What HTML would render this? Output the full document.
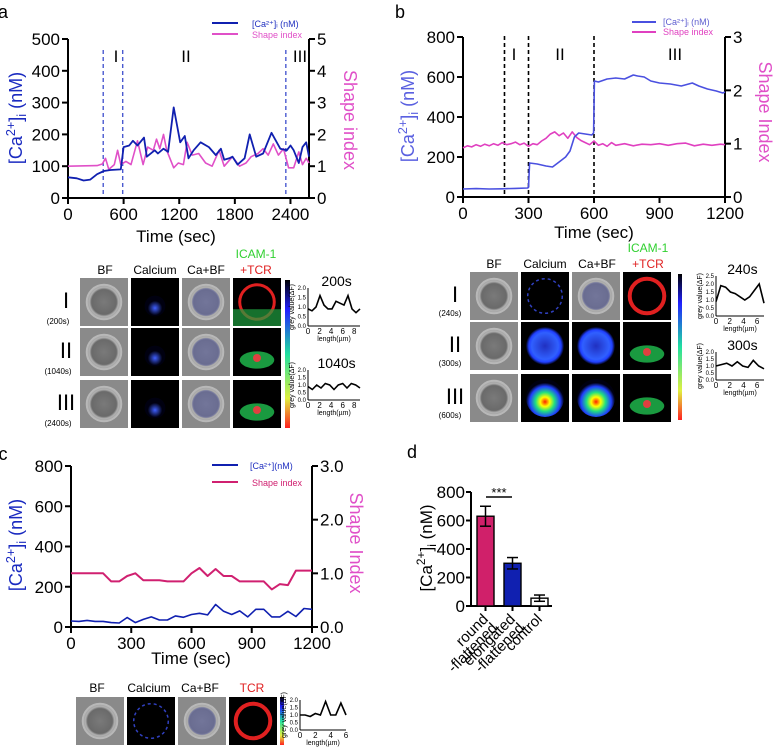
<!DOCTYPE html>
<html><head><meta charset="utf-8">
<style>
body{margin:0;background:#fff;}
svg{display:block;font-family:"Liberation Sans",Arial,sans-serif;}
</style></head>
<body>
<svg id="fig" width="778" height="755" viewBox="0 0 778 755" xmlns="http://www.w3.org/2000/svg">
<defs>
<radialGradient id="bfg" cx="0.5" cy="0.5" r="0.6"><stop offset="0" stop-color="#7a7a7a"/><stop offset="0.6" stop-color="#6a6a6a"/><stop offset="0.7" stop-color="#b0b0b0"/><stop offset="1" stop-color="#8c8c8c"/></radialGradient>
<radialGradient id="blueblob" cx="0.5" cy="0.6" r="0.35"><stop offset="0" stop-color="#4060ff"/><stop offset="1" stop-color="#000010"/></radialGradient>
<radialGradient id="heat" cx="0.5" cy="0.6" r="0.5"><stop offset="0" stop-color="#ff2000"/><stop offset="0.25" stop-color="#ffff00"/><stop offset="0.5" stop-color="#20e080"/><stop offset="0.8" stop-color="#2040ff"/><stop offset="1" stop-color="#000010"/></radialGradient>
<radialGradient id="heat2" cx="0.5" cy="0.5" r="0.5"><stop offset="0" stop-color="#2030c0"/><stop offset="0.7" stop-color="#3060ff"/><stop offset="0.85" stop-color="#2040ff"/><stop offset="1" stop-color="#000010"/></radialGradient>
<linearGradient id="cbar" x1="0" y1="0" x2="0" y2="1"><stop offset="0" stop-color="#000"/><stop offset="0.2" stop-color="#2020ff"/><stop offset="0.5" stop-color="#20e0a0"/><stop offset="0.8" stop-color="#e0f040"/><stop offset="1" stop-color="#ff2020"/></linearGradient>
</defs>
</svg>
<script>
// ---------- data ----------
const aCaT=[0,95,168,241,314,387,460,570,600,660,700,750,820,850,935,970,1030,1080,1140,1210,1260,1300,1355,1430,1520,1595,1650,1685,1740,1775,1830,1905,1960,2030,2105,2195,2290,2360,2400,2435,2490,2530,2570,2600];
const aCaV=[65,62,55,58,75,85,88,90,160,165,180,165,190,130,150,140,155,145,285,175,195,125,150,175,160,135,155,120,125,130,105,125,200,130,140,205,155,150,165,150,110,160,175,130];
const aShT=[0,314,370,405,440,500,535,570,625,680,750,810,860,920,955,990,1030,1065,1140,1190,1245,1285,1340,1410,1485,1555,1630,1685,1775,1850,1920,1975,2050,2105,2160,2215,2270,2325,2380,2435,2490,2530,2570,2600];
const aShV=[1.0,1.02,1.07,1.25,0.9,1.05,1.5,1.05,1.15,1.05,1.8,1.05,1.6,1.5,1.85,1.55,2.0,1.5,0.95,1.1,1.05,1.75,1.35,1.4,1.1,1.0,1.5,1.0,1.3,1.0,1.1,1.3,1.4,1.55,1.35,1.7,1.35,1.55,0.95,0.95,1.45,1.05,1.25,1.1];
const aXTicks=[0,600,1200,1800,2400];
const aYTicks=[0,100,200,300,400,500];
const aRTicks=[0,1,2,3,4,5];
const aMarkers=[380,590,2350];

const bCaT=[0,60,120,180,240,295,300,305,340,380,410,440,470,490,510,530,560,590,598,602,620,660,700,740,780,800,830,860,900,950,1000,1050,1080,1120,1160,1190,1200];
const bCaV=[40,42,40,41,43,45,48,170,165,155,150,175,200,230,300,320,315,310,320,580,575,590,595,590,610,605,600,580,570,565,555,570,555,540,530,520,525];
const bShT=[0,20,40,60,80,100,120,140,160,180,200,220,240,260,280,300,320,340,360,380,400,420,440,460,480,500,520,540,560,580,600,620,640,660,680,700,740,780,820,860,900,940,980,1020,1060,1100,1140,1180,1200];
const bShV=[0.92,0.96,0.94,0.98,0.95,0.99,0.96,1.0,0.97,1.02,0.98,1.0,1.03,0.98,1.01,0.95,1.0,0.98,1.05,1.1,1.18,1.22,1.15,1.2,1.1,1.22,1.12,1.06,1.02,0.98,1.05,0.97,1.0,0.95,1.02,0.97,1.0,0.96,0.99,0.98,1.0,0.97,1.0,1.01,0.96,0.99,0.97,0.99,0.98];
const bXTicks=[0,300,600,900,1200];
const bYTicks=[0,200,400,600,800];
const bRTicks=[0,1,2,3];
const bMarkers=[190,300,600];

const cCaT=[0,40,80,120,160,200,240,280,320,360,400,440,480,520,560,600,640,680,720,760,800,840,880,920,960,1000,1040,1080,1120,1160,1200];
const cCaV=[30,28,33,28,28,22,20,47,22,38,50,35,35,55,48,62,68,60,112,78,62,80,50,88,88,50,50,78,52,92,88];
const cShT=[0,160,200,240,280,320,360,440,480,560,600,640,680,720,760,800,840,920,960,1000,1040,1080,1120,1200];
const cShV=[1.0,1.0,0.85,0.85,0.95,1.0,0.87,0.87,0.85,0.85,1.0,1.1,0.95,1.08,0.95,0.95,0.85,0.85,0.85,0.7,0.8,0.78,1.05,1.05];
const cXTicks=[0,300,600,900,1200];
const cYTicks=[0,200,400,600,800];
const cRTicks=[0,1,2,3];

const dCats=["round\n-flattened","elongated\n-flattened","control"];
const dVals=[630,300,55];
const dErr=[70,40,22];
const dYTicks=[0,200,400,600,800];

// ---------- helpers ----------
const svg=document.getElementById('fig');
const NS='http://www.w3.org/2000/svg';
function mk(tag,attrs,parent){const e=document.createElementNS(NS,tag);for(const k in attrs)e.setAttribute(k,attrs[k]);(parent||svg).appendChild(e);return e;}
function txt(s,x,y,size,color,anchor,parent,rot){const t=mk('text',{x:x,y:y,'font-size':size,fill:color||'#000','text-anchor':anchor||'middle'},parent);if(rot!==undefined)t.setAttribute('transform','rotate('+rot+' '+x+' '+y+')');t.textContent=s;return t;}
function poly(ts,vs,xf,yf,color,w,parent){const p=ts.map((t,i)=>xf(t).toFixed(1)+','+yf(vs[i]).toFixed(1)).join(' ');return mk('polyline',{points:p,fill:'none',stroke:color,'stroke-width':w||1.6,'stroke-linejoin':'round'},parent);}

function dualChart(id,x0,x1,yb,yt,xMax,yMax,rMax,xT,yT,rT,rFmt){
  const g=mk('g',{});
  
  
  const xf=t=>x0+(x1-x0)*t/xMax, yf=v=>yb-(yb-yt)*v/yMax, rf=v=>yb-(yb-yt)*v/rMax;
  mk('line',{x1:x0,y1:yt,x2:x0,y2:yb,stroke:'#000','stroke-width':2},g);
  mk('line',{x1:x1,y1:yt,x2:x1,y2:yb,stroke:'#000','stroke-width':2},g);
  mk('line',{x1:x0,y1:yb,x2:x1,y2:yb,stroke:'#000','stroke-width':2},g);
  yT.forEach(v=>{mk('line',{x1:x0-6,y1:yf(v),x2:x0,y2:yf(v),stroke:'#000','stroke-width':2},g);txt(String(v),x0-8,yf(v)+6,17,'#000','end',g);});
  rT.forEach(v=>{mk('line',{x1:x1,y1:rf(v),x2:x1+6,y2:rf(v),stroke:'#000','stroke-width':2},g);txt(rFmt?v.toFixed(1):String(v),x1+8,rf(v)+6,17,'#000','start',g);});
  xT.forEach(v=>{mk('line',{x1:xf(v),y1:yb,x2:xf(v),y2:yb+6,stroke:'#000','stroke-width':2},g);txt(String(v),xf(v),yb+22,17,'#000','middle',g);});
  return {g,xf,yf,rf};
}
function caLabel(x,y,color,rot,size){const t=txt('',x,y,size||17,color,'middle',null,rot);t.innerHTML='[Ca<tspan font-size="'+((size||17)*0.7)+'" dy="-7">2+</tspan><tspan dy="7">]</tspan><tspan font-size="'+((size||17)*0.7)+'" dy="4">i</tspan><tspan dy="-4"> (nM)</tspan>';return t;}

// ---------- panel a ----------
const A=dualChart('chart-a',68,309,198,39,2600,500,5,aXTicks,aYTicks,aRTicks,false);
aMarkers.forEach(m=>{const l=mk('line',{x1:A.xf(m),y1:50,x2:A.xf(m),y2:196,stroke:'#4a5ad0','stroke-width':1.4,'stroke-dasharray':'4,3'},A.g);});
const aSh=poly(aShT,aShV,A.xf,A.rf,'#e050c8',1.6,A.g);

const aCa=poly(aCaT,aCaV,A.xf,A.yf,'#1020b0',1.8,A.g);

txt('I',116,62,17);txt('II',186,62,17);txt('III',300,62,17);
txt('a',3,18,18);
mk('line',{x1:212,y1:23,x2:238,y2:23,stroke:'#1020b0','stroke-width':2});
txt('[Ca²⁺]ᵢ (nM)',252,27,9,'#2030c0','start');
mk('line',{x1:212,y1:34,x2:238,y2:34,stroke:'#e050c8','stroke-width':2});
txt('Shape index',252,38,9,'#e050c8','start');
caLabel(22,118,'#1a2ac0',-90,18);
txt('Shape index',344,120,18,'#e050c8','middle',null,90);
txt('Time (sec)',176,242,17);

// ---------- panel b ----------
const B=dualChart('chart-b',463,725,197,37,1200,800,3,bXTicks,bYTicks,bRTicks,false);
bMarkers.forEach(m=>{const l=mk('line',{x1:B.xf(m),y1:36,x2:B.xf(m),y2:195,stroke:'#000','stroke-width':1.6,'stroke-dasharray':'4,3'},B.g);});
const bSh=poly(bShT,bShV,B.xf,B.rf,'#e040c0',1.6,B.g);

const bCa=poly(bCaT,bCaV,B.xf,B.yf,'#4a50e0',1.6,B.g);

txt('I',514,60,17);txt('II',560,60,17);txt('III',675,60,17);
txt('b',400,18,18);
mk('line',{x1:632,y1:22,x2:656,y2:22,stroke:'#4a50e0','stroke-width':2});
txt('[Ca²⁺]ᵢ (nM)',663,25,9,'#6060d0','start');
mk('line',{x1:632,y1:32,x2:656,y2:32,stroke:'#e040c0','stroke-width':2});
txt('Shape index',663,35,9,'#e040c0','start');
caLabel(414,116,'#5a60e0',-90,18);
txt('Shape Index',759,112,18,'#e050c8','middle',null,90);
txt('Time (sec)',594,238,17);

// ---------- panel c ----------
const C=dualChart('chart-c',71,312,627,466,1200,800,3,cXTicks,cYTicks,cRTicks,true);
const cSh=poly(cShT,cShV,C.xf,C.rf,'#d02070',2,C.g);

const cCa=poly(cCaT,cCaV,C.xf,C.yf,'#1020b0',1.6,C.g);

txt('c',3,460,18);
mk('line',{x1:212,y1:465,x2:238,y2:465,stroke:'#1020b0','stroke-width':2});
txt('[Ca²⁺](nM)',250,469,9,'#2030c0','start');
mk('line',{x1:212,y1:482,x2:238,y2:482,stroke:'#d02070','stroke-width':2});
txt('Shape index',252,486,9,'#d02070','start');
caLabel(22,545,'#1a2ac0',-90,18);
txt('Shape Index',350,543,18,'#e050c8','middle',null,90);
txt('Time (sec)',191,664,17);

// ---------- panel d ----------
const dg=mk('g',{});

const dY=v=>606-v*0.1425;
const dX=i=>485+i*27;
mk('line',{x1:471,y1:492,x2:471,y2:606,stroke:'#000','stroke-width':2},dg);
mk('line',{x1:471,y1:606,x2:552,y2:606,stroke:'#000','stroke-width':2},dg);
dYTicks.forEach(v=>{mk('line',{x1:466,y1:dY(v),x2:471,y2:dY(v),stroke:'#000','stroke-width':2},dg);txt(String(v),465,dY(v)+6,17,'#000','end',dg);});
const dFill=['#d0206a','#1020b0','#fff'];
dVals.forEach((v,i)=>{
  const r=mk('rect',{x:dX(i)-8,y:dY(v),width:17,height:606-dY(v),fill:dFill[i],stroke:'#000','stroke-width':1.4},dg);
  
  mk('line',{x1:dX(i)+0.5,y1:dY(v+dErr[i]),x2:dX(i)+0.5,y2:dY(v-dErr[i]),stroke:'#000','stroke-width':1.5},dg);
  mk('line',{x1:dX(i)-5,y1:dY(v+dErr[i]),x2:dX(i)+6,y2:dY(v+dErr[i]),stroke:'#000','stroke-width':1.5},dg);
  mk('line',{x1:dX(i)-5,y1:dY(v-dErr[i]),x2:dX(i)+6,y2:dY(v-dErr[i]),stroke:'#000','stroke-width':1.5},dg);
  mk('line',{x1:dX(i)+0.5,y1:606,x2:dX(i)+0.5,y2:611,stroke:'#000','stroke-width':2},dg);
  dCats[i].split('\n').forEach((s,j)=>txt(s,dX(i)+4+j*9,620+j*9,15,'#000','end',dg,-45));
});
mk('line',{x1:486,y1:497,x2:512,y2:497,stroke:'#000','stroke-width':1.5},dg);
txt('***',499,497,13,'#000','middle',dg);
txt('d',412,458,18);
caLabel(432,548,'#000',-90,17);

// ---------- micrograph panels ----------
function cell(x,y,w,type,name){
  const g=mk('g',{});
  
  mk('rect',{x:x,y:y,width:w,height:w,fill:type==='bf'||type==='cabf'?'#8a8a8a':'#000'},g);
  const cx=x+w/2,cy=y+w/2,r=w*0.36;
  if(type==='bf'||type==='cabf'){mk('circle',{cx:cx,cy:cy,r:r,fill:'url(#bfg)',stroke:'#b8b8b8','stroke-width':2},g);if(type==='cabf')mk('circle',{cx:cx,cy:cy,r:r*0.8,fill:'#6a70c0',opacity:0.45},g);}
  if(type==='ca')mk('circle',{cx:cx,cy:cy+4,r:r*0.6,fill:'url(#blueblob)'},g);
  if(type==='caring')mk('circle',{cx:cx,cy:cy,r:r,fill:'none',stroke:'#3040c0','stroke-width':1.5,'stroke-dasharray':'3,3'},g);
  if(type==='heat')mk('circle',{cx:cx,cy:cy,r:r*1.1,fill:'url(#heat)'},g);
  if(type==='heat2')mk('circle',{cx:cx,cy:cy,r:r*1.1,fill:'url(#heat2)'},g);
  if(type==='ring'){mk('circle',{cx:cx,cy:cy,r:r,fill:'none',stroke:'#e02020','stroke-width':3},g);mk('rect',{x:x,y:y+w*0.65,width:w,height:w*0.35,fill:'#20a040',opacity:0.7},g);}
  if(type==='ringr')mk('circle',{cx:cx,cy:cy,r:r,fill:'none',stroke:'#e02020','stroke-width':4},g);
  if(type==='green'){mk('ellipse',{cx:cx,cy:cy+8,rx:r,ry:r*0.5,fill:'#20c050',opacity:0.8},g);mk('circle',{cx:cx,cy:cy+6,r:4,fill:'#e04040'},g);}
  return g;
}
function miniPlot(x,y,w,h,label,vals,yMax,xMax,ticksX){
  const g=mk('g',{});
  
  mk('line',{x1:x,y1:y,x2:x,y2:y+h,stroke:'#000','stroke-width':1},g);
  mk('line',{x1:x,y1:y+h,x2:x+w,y2:y+h,stroke:'#000','stroke-width':1},g);
  const pts=vals.map((v,i)=>(x+w*i/(vals.length-1)).toFixed(1)+','+(y+h-h*v/yMax).toFixed(1)).join(' ');
  mk('polyline',{points:pts,fill:'none',stroke:'#000','stroke-width':1.6},g);
  txt(label,x+w*0.55,y-2,14,'#000','middle',g);
  for(let v=0;v<=yMax;v+=0.5)txt(v.toFixed(1),x-2,y+h-h*v/yMax+2,6,'#000','end',g);
  ticksX.forEach(t=>txt(String(t),x+w*t/xMax,y+h+8,8,'#000','middle',g));
  txt('length(µm)',x+w/2,y+h+15,7,'#000','middle',g);
  txt('grey value(ΔF)',x-14,y+h/2,7,'#000','middle',g,-90);
}
// a images
txt('BF',105,274,12);txt('Calcium',155,274,12);txt('Ca+BF',206,274,12);
txt('ICAM-1',256,258,12,'#30d030');txt('+TCR',256,274,12,'#e02020');
const aRows=[['I','(200s)',278,['bf','ca','cabf','ring']],['II','(1040s)',328,['bf','ca','cabf','green']],['III','(2400s)',380,['bf','ca','cabf','green']]];
aRows.forEach(r=>{txt(r[0],66,r[2]+30,22,'#000','middle');txt(r[1],58,r[2]+46,8,'#000','middle');
  r[3].forEach((t,i)=>cell(80+i*51,r[2],48,t,'micrograph-a-'+r[0]+'-'+i));});
mk('rect',{x:285,y:280,width:5,height:148,fill:'url(#cbar)'});
miniPlot(308,288,52,38,'200s',[0.9,0.8,1.0,1.6,1.1,0.9,0.9,1.3,1.2,1.1,1.6,0.9,0.7,0.9],2,9,[0,2,4,6,8]);
miniPlot(308,370,52,30,'1040s',[0.9,0.7,1.0,0.8,1.1,1.0,0.7,1.0,1.1,0.8,1.1,1.0,0.8],2,9,[0,2,4,6,8]);
// b images
txt('BF',494,268,12);txt('Calcium',545,268,12);txt('Ca+BF',597,268,12);
txt('ICAM-1',648,252,12,'#30d030');txt('+TCR',648,268,12,'#e02020');
const bRows=[['I','(240s)',272,['bf','caring','cabf','ringr']],['II','(300s)',322,['bf','heat2','heat2','green']],['III','(600s)',374,['bf','heat','heat','green']]];
bRows.forEach(r=>{txt(r[0],455,r[2]+30,22,'#000','middle');txt(r[1],450,r[2]+44,8,'#000','middle');
  r[3].forEach((t,i)=>cell(470+i*51,r[2],48,t,'micrograph-b-'+r[0]+'-'+i));});
mk('rect',{x:678,y:274,width:4,height:146,fill:'url(#cbar)'});
miniPlot(716,276,48,40,'240s',[0.9,1.9,1.8,1.5,1.4,1.2,1.0,1.2,1.6,2.0,0.8],2.5,7,[0,2,4,6]);
miniPlot(716,352,48,28,'300s',[1.0,1.1,1.2,1.0,1.3,1.0,0.9,1.4,1.0,0.8],2,7,[0,2,4,6]);
// c images
txt('BF',97,692,12);txt('Calcium',149,692,12);txt('Ca+BF',200,692,12);txt('TCR',252,692,12,'#e02020');
['bf','caring','cabf','ringr'].forEach((t,i)=>cell(76+i*51,697,48,t,'micrograph-c-'+i));
mk('rect',{x:280,y:697,width:4,height:48,fill:'url(#cbar)'});
miniPlot(300,700,46,30,'',[1.0,1.0,0.9,1.1,1.0,1.9,1.0,1.0,1.8,1.0],2,6,[0,2,4,6]);
</script>
</body></html>
